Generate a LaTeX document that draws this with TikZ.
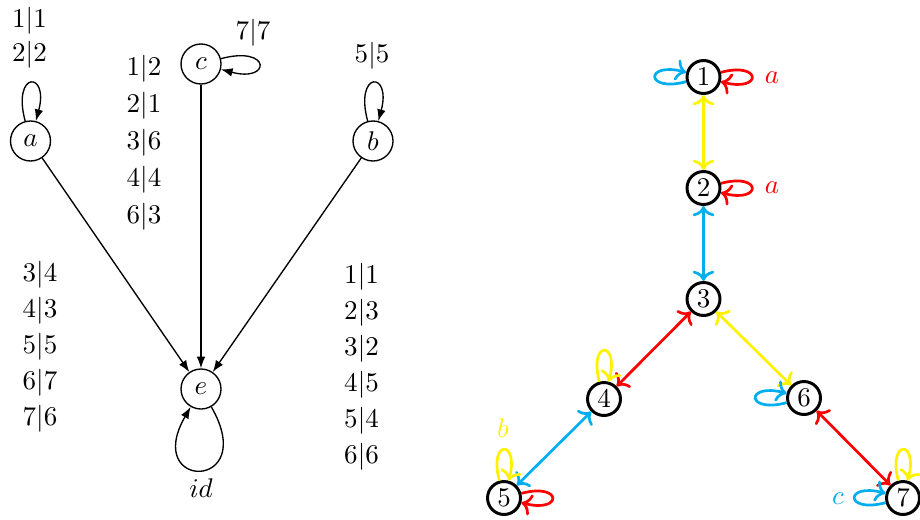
\documentclass[tikz,border=0pt]{standalone}
\usetikzlibrary{arrows.meta}
\definecolor{cyanx}{RGB}{0,174,239}
\definecolor{yellowx}{RGB}{255,242,0}
\begin{document}
\begin{tikzpicture}[x=0.37pt,y=0.37pt,
  lnode/.style={circle,draw,line width=0.5pt,minimum size=14.8pt,inner sep=0pt},
  ledge/.style={line width=0.5pt,-{Latex[length=4.3pt,width=3.2pt]}},
  rnode/.style={circle,draw,line width=1.1pt,minimum size=12.2pt,inner sep=0pt},
  redge/.style={line width=1pt,<->},
  rloop/.style={line width=1pt,->,distance=15.9pt},
  lab/.style={align=center,inner sep=0pt}]
\useasboundingbox (0,0) rectangle (920,-519);
% left graph
\node[lnode] (a) at (30.5,-141) {$a$};
\node[lnode] (c) at (201,-64) {$c$};
\node[lnode] (b) at (373,-141) {$b$};
\node[lnode] (e) at (201,-389) {$e$};
\draw[ledge] (a) -- (e);
\draw[ledge] (c) -- (e);
\draw[ledge] (b) -- (e);
\draw[ledge] (a) to[out=105,in=75,distance=19.3pt] (a);
\draw[ledge] (b) to[out=105,in=75,distance=19.3pt] (b);
\draw[ledge] (c) to[out=15,in=-15,distance=19.3pt] (c);
\draw[ledge] (e) to[out=-60,in=-120,distance=36pt] (e);
\node[lab] (t1) at (29.5,-38) {$1|1$\\[0.6pt]$2|2$};
\node[lab] (t2) at (253,-33) {$7|7$};
\node[lab] (t3) at (144,-142.5) {$1|2$\\[1.7pt]$2|1$\\[1.7pt]$3|6$\\[1.7pt]$4|4$\\[1.7pt]$6|3$};
\node[lab] (t4) at (372,-56) {$5|5$};
\node[lab] (t5) at (40,-347) {$3|4$\\[1.3pt]$4|3$\\[1.3pt]$5|5$\\[1.3pt]$6|7$\\[1.3pt]$7|6$};
\node[lab] (t6) at (361.5,-366.5) {$1|1$\\[1.3pt]$2|3$\\[1.3pt]$3|2$\\[1.3pt]$4|5$\\[1.3pt]$5|4$\\[1.3pt]$6|6$};
\node[lab] (id) at (201,-488) {$id$};
% right graph
\node[rnode] (n1) at (703.5,-77) {$1$};
\node[rnode] (n2) at (703.5,-188) {$2$};
\node[rnode] (n3) at (703.5,-299) {$3$};
\node[rnode] (n4) at (604,-399) {$4$};
\node[rnode] (n5) at (504,-498) {$5$};
\node[rnode] (n6) at (804,-398) {$6$};
\node[rnode] (n7) at (903,-498) {$7$};
\draw[redge,yellowx] (n1) -- (n2);
\draw[redge,cyanx] (n2) -- (n3);
\draw[redge,red] (n3) -- (n4);
\draw[redge,yellowx] (n3) -- (n6);
\draw[redge,cyanx] (n4) -- (n5);
\draw[redge,red] (n6) -- (n7);
\draw[rloop,cyanx] (n1) to[out=195,in=165] (n1);
\draw[rloop,red] (n1) to[out=15,in=-15] (n1);
\draw[rloop,red] (n2) to[out=15,in=-15] (n2);
\draw[rloop,yellowx] (n4) to[out=105,in=75] (n4);
\draw[rloop,yellowx] (n5) to[out=105,in=75] (n5);
\draw[rloop,red] (n5) to[out=15,in=-15] (n5);
\draw[rloop,cyanx] (n6) to[out=195,in=165] (n6);
\draw[rloop,yellowx] (n7) to[out=105,in=75] (n7);
\draw[rloop,cyanx] (n7) to[out=195,in=165] (n7);
\node[lab,red] (la1) at (772,-77.5) {$a$};
\node[lab,red] (la2) at (772,-188) {$a$};
\node[lab,yellowx] (lb) at (503,-428) {$b$};
\node[lab,cyanx] (lc) at (838,-499) {$c$};
\end{tikzpicture}
\end{document}
